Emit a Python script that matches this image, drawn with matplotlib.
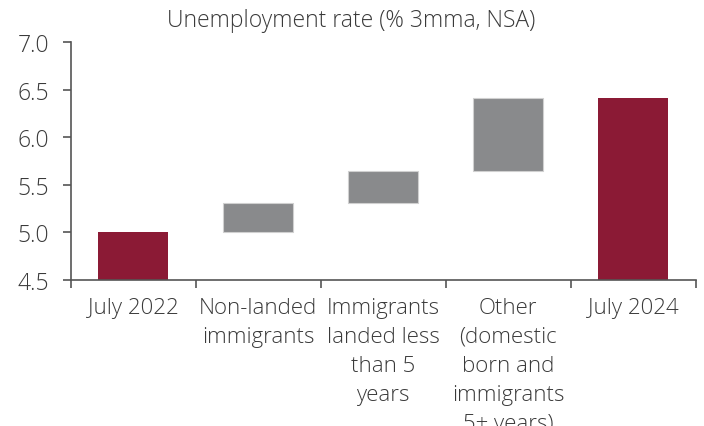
import matplotlib
matplotlib.use("Agg")
import matplotlib.pyplot as plt
import numpy as np

categories = ["July 2022", "Non-landed\nimmigrants", "Immigrants\nlanded less\nthan 5\nyears",
              "Other\n(domestic\nborn and\nimmigrants\n5+ years)", "July 2024"]
start_rate = 5.00
changes = [0.31, 0.34, 0.76]
end_rate = 6.41
title = "Unemployment rate (% 3mma, NSA)"

plt.rcParams['font.family'] = ['Open Sans', 'DejaVu Sans']
plt.rcParams['font.weight'] = 'light'
text_color = '#3a3a3a'
maroon = '#8B1A35'
grey = '#898A8C'

fig = plt.figure(figsize=(7.04, 4.27), dpi=100)
ax = fig.add_axes([71/704, 1-281/427, (695.5-71)/704, (281-43)/427])

x = np.arange(len(categories))
width = 0.56
ymin = 4.5
ax.bar(x[0], start_rate - ymin, bottom=ymin, width=width, color=maroon)
ax.bar(x[-1], end_rate - ymin, bottom=ymin, width=width, color=maroon)
cum = start_rate
for i, d in enumerate(changes):
    ax.bar(x[i+1], d, bottom=cum, width=width, color=grey, edgecolor='#d0d0d0', linewidth=0.8)
    cum += d

ax.set_xlim(-0.5, len(categories)-0.5)
ax.set_ylim(4.5, 7.0)
yt = np.arange(4.5, 7.01, 0.5)
ax.set_yticks(yt)
ax.set_yticklabels([f"{v:.1f}" for v in yt])
ax.set_xticks(x)
ax.set_xticklabels(categories, linespacing=1.5)
ax.tick_params(axis='x', length=0, pad=12, labelsize=16, colors=text_color)
ax.set_xticks(np.arange(-0.5, len(categories)), minor=True)
ax.tick_params(axis='x', which='minor', length=6, width=1.2, color='#555555', direction='out')
ax.tick_params(axis='y', length=6, width=1.2, color='#555555', labelsize=16.5, colors=text_color, pad=10)
for lab in ax.get_xticklabels():
    lab.set_verticalalignment('top')
for s in ['top', 'right']:
    ax.spines[s].set_visible(False)
for s in ['left', 'bottom']:
    ax.spines[s].set_color('#555555')
    ax.spines[s].set_linewidth(1.2)

fig.text(351/704, 1-21/427, title, ha='center', va='center', fontsize=16.5, color=text_color)

fig.savefig("out.png", dpi=100)
